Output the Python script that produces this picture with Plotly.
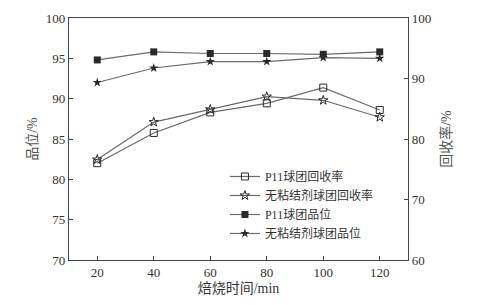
import plotly.graph_objects as go

time_min = [20, 40, 60, 80, 100, 120]
p11_recovery = [76.0, 81.0, 84.4, 85.9, 88.5, 84.8]
nb_recovery = [76.6, 82.8, 84.9, 87.0, 86.4, 83.6]
p11_grade = [94.8, 95.8, 95.6, 95.6, 95.5, 95.8]
nb_grade = [92.0, 93.8, 94.6, 94.6, 95.1, 95.0]

font_fam = "Liberation Serif, Noto Sans CJK SC, serif"
line_c = "#6a6a6a"
mark_c = "#2a2a2a"

fig = go.Figure()
fig.add_trace(go.Scatter(x=time_min, y=p11_recovery, yaxis="y2", name="P11球团回收率",
                         mode="lines+markers", line=dict(color=line_c, width=1.2),
                         marker=dict(symbol="square-open", size=7, color=mark_c, line=dict(width=1))))
fig.add_trace(go.Scatter(x=time_min, y=nb_recovery, yaxis="y2", name="无粘结剂球团回收率",
                         mode="lines+markers", line=dict(color=line_c, width=1.2),
                         marker=dict(symbol="star-open", size=7, color=mark_c, line=dict(width=1))))
fig.add_trace(go.Scatter(x=time_min, y=p11_grade, name="P11球团品位",
                         mode="lines+markers", line=dict(color=line_c, width=1.2),
                         marker=dict(symbol="square", size=7, color=mark_c)))
fig.add_trace(go.Scatter(x=time_min, y=nb_grade, name="无粘结剂球团品位",
                         mode="lines+markers", line=dict(color=line_c, width=1.2),
                         marker=dict(symbol="star", size=7, color=mark_c)))

axis_common = dict(showgrid=False, zeroline=False, showline=True, linecolor="#444", linewidth=1.2,
                   ticks="inside", ticklen=4, tickcolor="#444",
                   tickfont=dict(family=font_fam, size=13, color="#333"))

fig.update_layout(
    width=488, height=305, margin=dict(l=69, r=80, t=11, b=40),
    paper_bgcolor="white", plot_bgcolor="white",
    font=dict(family=font_fam, color="#333"),
    xaxis=dict(range=[10, 130], tickvals=[20, 40, 60, 80, 100, 120], mirror=True,
               title=dict(text="焙烧时间/min", font=dict(family=font_fam, size=14, color="#333"), standoff=4),
               **axis_common),
    yaxis=dict(range=[70, 100], dtick=5,
               title=dict(text="品位/%", font=dict(family=font_fam, size=14, color="#555"), standoff=4),
               **axis_common),
    yaxis2=dict(range=[60, 100], dtick=10, overlaying="y", side="right",
                title=dict(text="回收率/%", font=dict(family=font_fam, size=14, color="#555"), standoff=10),
                **axis_common),
    legend=dict(x=0.46, y=0.405, xanchor="left", yanchor="top", bgcolor="rgba(0,0,0,0)",
                font=dict(family=font_fam, size=12, color="#333"), tracegroupgap=0, itemwidth=30),
    showlegend=True,
)

fig.write_html("out.html")
